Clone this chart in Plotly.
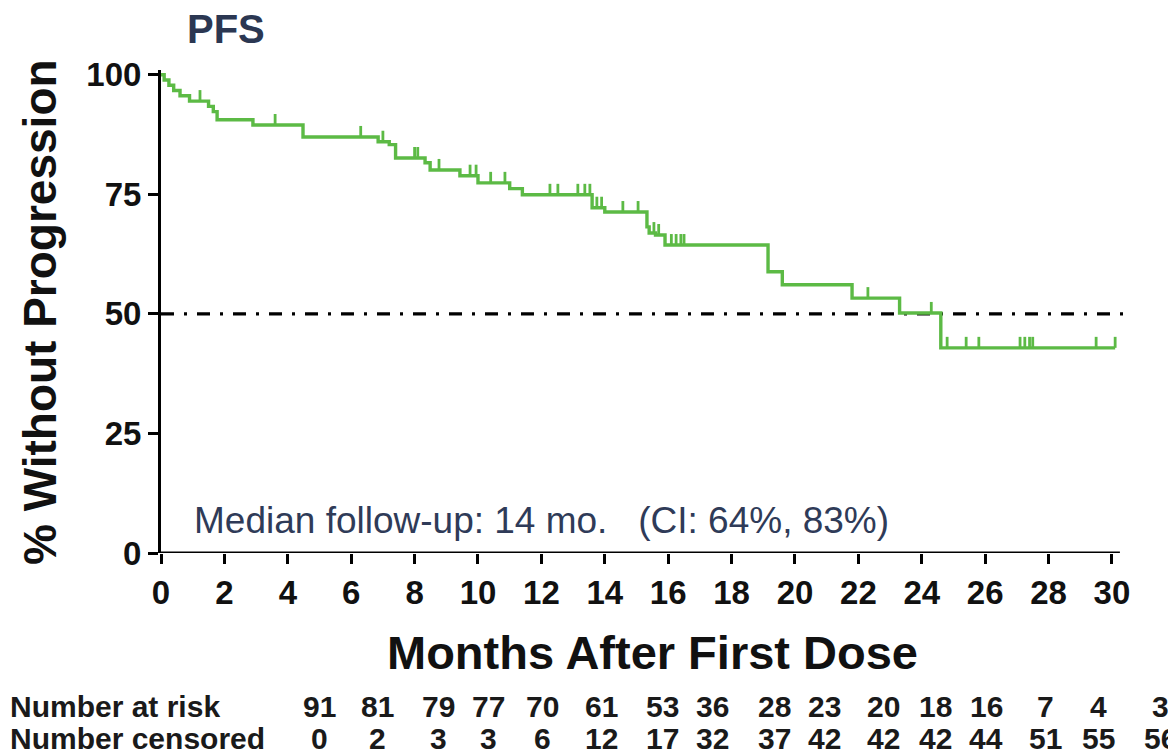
import numpy as np
import plotly.graph_objects as go

# Kaplan-Meier progression-free survival (months, % without progression)
step_month = [0, 0.10, 0.25, 0.40, 0.60, 0.90, 1.50, 1.65, 1.77, 2.90, 4.48, 6.85, 7.20,
              7.40, 8.33, 8.49, 9.43, 10.00, 11.00, 11.40, 13.60, 14.00, 15.33, 15.40,
              15.60, 15.90, 19.15, 19.60, 21.80, 23.30, 24.60]
step_pct = [100, 98.9, 97.8, 96.7, 95.6, 94.5, 93.4, 92.3, 90.6, 89.5, 87.0, 86.0, 85.4,
            82.6, 81.6, 80.1, 78.9, 77.4, 76.2, 74.9, 72.2, 71.3, 68.2, 66.9,
            66.5, 64.4, 58.8, 56.1, 53.3, 50.2, 42.9]
last_followup = 30.1

# censored observations (months)
censor_month = [1.23, 3.6, 6.3, 7.0, 8.0, 8.1, 8.77, 9.75, 9.94, 10.4, 10.85,
                12.27, 12.52, 13.15, 13.37, 13.53, 13.75, 13.9, 14.57, 15.05,
                15.55, 15.7, 16.1, 16.25, 16.4, 16.5, 22.3, 24.3, 24.8, 25.4, 25.8,
                27.1, 27.25, 27.4, 27.5, 29.5, 30.1]

median_level = 50
x_ticks = list(range(0, 31, 2))
y_ticks = [0, 25, 50, 75, 100]

# risk table
at_risk = [91, 81, 79, 77, 70, 61, 53, 36, 28, 23, 20, 18, 16, 7, 4, 3]
censored = [0, 2, 3, 3, 6, 12, 17, 32, 37, 42, 42, 42, 44, 51, 55, 56]

# ---- layout geometry (pixels) ----
W, H = 1168, 754
L, R, T, B = 161, 37, 70, 201
PW, PH = W - L - R, H - T - B
X_MAX = 30.6


def px_x(px):
    return (px - L) / PW


def px_y(py):
    return (H - B - py) / PH


table_cols_px = [319, 377, 438, 488, 542, 601, 662, 712, 774, 824, 883, 935, 986,
                 1045, 1098, 1160]

GREEN = "#5CBA45"
FONT = "Liberation Sans, Arial, sans-serif"
NAVY = "#2B3752"

# step curve
xs = list(step_month) + [last_followup]
ys = list(step_pct) + [step_pct[-1]]

fig = go.Figure()

fig.add_trace(go.Scatter(
    x=[0, X_MAX], y=[median_level, median_level], mode="lines",
    line=dict(color="black", width=3.4, dash="13px,10px,3px,10px"),
    hoverinfo="skip", showlegend=False))

fig.add_trace(go.Scatter(
    x=xs, y=ys, mode="lines", line=dict(color=GREEN, width=3.4, shape="hv"),
    showlegend=False))

# censor ticks: short vertical marks rising from the curve
sm = np.array(step_month)
sp = np.array(step_pct)
cx, cy = [], []
for t in censor_month:
    lvl = sp[np.searchsorted(sm, t, side="right") - 1]
    cx += [t, t, None]
    cy += [lvl, lvl + 2.3, None]
fig.add_trace(go.Scatter(x=cx, y=cy, mode="lines", line=dict(color=GREEN, width=2.8),
                         hoverinfo="skip", showlegend=False))

tickfont = dict(family=FONT, size=33, color="#111111", weight="bold")
fig.update_xaxes(range=[0, X_MAX], tickvals=x_ticks, showline=False,
                 ticks="outside", ticklen=10, tickwidth=3, tickcolor="black",
                 showgrid=False, zeroline=False, tickfont=tickfont)
fig.update_yaxes(range=[0, 101], tickvals=y_ticks, showline=True, linecolor="black",
                 linewidth=3, ticks="outside", ticklen=10, tickwidth=3, tickcolor="black",
                 showgrid=False, zeroline=False, tickfont=tickfont)

# x axis line ends just past the last tick
fig.add_shape(type="line", xref="x", yref="y", x0=0, x1=30.25, y0=0, y1=0,
              line=dict(color="black", width=3), layer="above")

ann = []
ann.append(dict(text="PFS", x=px_x(185), y=px_y(29), xanchor="left", yanchor="middle",
                font=dict(family=FONT, size=40, color=NAVY, weight="bold")))
ann.append(dict(text="% Without Progression", x=px_x(40), y=px_y(312), textangle=-90,
                xanchor="center", yanchor="middle",
                font=dict(family=FONT, size=46, color="#111111", weight="bold")))
ann.append(dict(text="Months After First Dose", x=px_x(652), y=px_y(652),
                xanchor="center", yanchor="middle",
                font=dict(family=FONT, size=47, color="#111111", weight="bold")))
ann.append(dict(text="Median follow-up: 14 mo.\u00a0\u00a0\u00a0(CI: 64%, 83%)",
                x=px_x(192), y=px_y(520), xanchor="left", yanchor="middle",
                font=dict(family=FONT, size=37, color="#2F3B58")))

tfont = dict(family=FONT, size=30, color="#1a1a1a", weight="bold")
ann.append(dict(text="Number at risk", x=px_x(8), y=px_y(706), xanchor="left",
                yanchor="middle", font=tfont))
ann.append(dict(text="Number censored", x=px_x(8), y=px_y(738), xanchor="left",
                yanchor="middle", font=tfont))
for cpx, n_risk, n_cens in zip(table_cols_px, at_risk, censored):
    ann.append(dict(text=str(n_risk), x=px_x(cpx), y=px_y(706), xanchor="center",
                    yanchor="middle", font=tfont))
    ann.append(dict(text=str(n_cens), x=px_x(cpx), y=px_y(738), xanchor="center",
                    yanchor="middle", font=tfont))

for a in ann:
    a.update(xref="paper", yref="paper", showarrow=False)

fig.update_layout(width=W, height=H, margin=dict(l=L, r=R, t=T, b=B),
                  plot_bgcolor="white", paper_bgcolor="white", annotations=ann)

fig.write_html("out.html")
